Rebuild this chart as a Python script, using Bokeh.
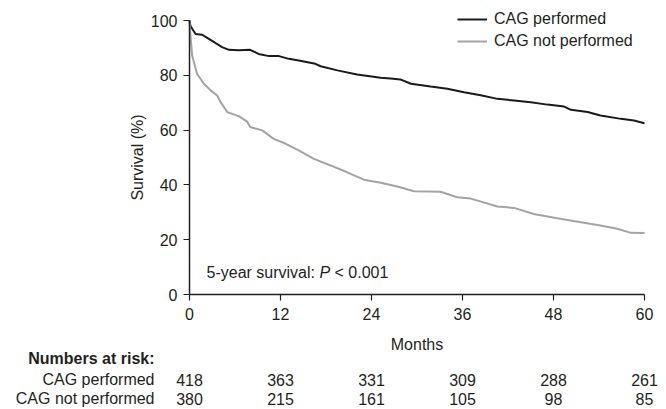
from bokeh.plotting import figure
from bokeh.models import Range1d, FixedTicker, Legend, LegendItem, Label
from bokeh.core.properties import value
from bokeh.embed import file_html
from bokeh.resources import INLINE

# ---- data ----
perf_months = [0, 0.13, 0.8, 1.67, 2.55, 3.4, 4.3, 5.2, 6.5, 8.0, 9.1, 10.5, 11.8,
               13.1, 14.4, 16.6, 17.3, 19.5, 22.1, 25.2, 26.5, 27.8, 29.2, 31.8,
               34.0, 36.2, 38.4, 40.6, 42.8, 45.0, 47.2, 49.4, 50.3, 52.5, 54.2,
               56.9, 58.6, 60]
perf_surv = [100, 98.0, 95.1, 94.8, 93.3, 91.8, 90.3, 89.3, 89.1, 89.3, 87.8, 87.0,
             87.0, 86.0, 85.4, 84.2, 83.3, 81.8, 80.3, 79.1, 78.8, 78.5, 76.9, 75.9,
             75.1, 73.8, 72.7, 71.4, 70.8, 70.2, 69.3, 68.6, 67.4, 66.6, 65.3,
             64.1, 63.5, 62.5]

notperf_months = [0, 0.13, 0.35, 1.0, 1.9, 2.8, 3.65, 4.1, 5.0, 6.5, 7.6, 8.0, 9.6,
                  11.1, 12.7, 14.4, 16.4, 18.6, 20.8, 23.0, 25.2, 27.4, 29.6, 33.1,
                  35.3, 37.1, 40.6, 42.8, 45.4, 48.5, 51.6, 54.2, 56.4, 58.2, 60]
notperf_surv = [100, 94.5, 87.2, 80.5, 76.9, 74.5, 72.6, 70.2, 66.5, 65.1, 63.1, 61.1,
                59.9, 56.8, 55.0, 52.6, 49.5, 47.1, 44.6, 41.9, 40.8, 39.4, 37.7, 37.5,
                35.5, 35.0, 32.1, 31.6, 29.4, 27.8, 26.4, 25.2, 24.0, 22.5, 22.4]

series_names = ["CAG performed", "CAG not performed"]
x_ticks = [0, 12, 24, 36, 48, 60]
y_ticks = [0, 20, 40, 60, 80, 100]
risk_perf = [418, 363, 331, 309, 288, 261]
risk_notperf = [380, 215, 161, 105, 98, 85]
annotation_parts = ["5-year survival:", "P", "< 0.001"]

FONT = "Liberation Sans"
TXT = "#231f20"
FS = "16px"

W, H = 666, 409
# frame covers the whole canvas; axes are fixed at x=0 / y=0 and bounded
px_x = 455 / 60.0   # pixels per month
px_y = 274 / 100.0  # pixels per percent
x0_px, y0_px = 189, 294
xr = Range1d(-x0_px / px_x, 60 + (W - 644) / px_x)
yr = Range1d(-(H - y0_px) / px_y, 100 + 20 / px_y)

p = figure(width=W, height=H, output_backend="svg", toolbar_location=None,
           x_range=xr, y_range=yr, min_border=0)
p.min_border_left = 0
p.min_border_right = 0
p.min_border_top = 0
p.min_border_bottom = 0
p.outline_line_color = None
p.xgrid.visible = False
p.ygrid.visible = False

r1 = p.line(perf_months, perf_surv, line_color="#1a1a1a", line_width=2)
r2 = p.line(notperf_months, notperf_surv, line_color="#a3a3a3", line_width=2)

for ax in (p.xaxis[0], p.yaxis[0]):
    ax.fixed_location = 0
    ax.axis_line_color = TXT
    ax.axis_line_width = 1.5
    ax.major_tick_line_color = TXT
    ax.major_tick_line_width = 1.2
    ax.major_tick_out = 6
    ax.major_tick_in = 0
    ax.minor_tick_line_color = None
    ax.major_label_text_font = FONT
    ax.major_label_text_font_size = FS
    ax.major_label_text_color = TXT
    ax.axis_label_text_font = FONT
    ax.axis_label_text_font_size = FS
    ax.axis_label_text_font_style = "normal"
    ax.axis_label_text_color = TXT

p.xaxis[0].bounds = (0, 60)
p.yaxis[0].bounds = (0, 100)
p.xaxis.ticker = FixedTicker(ticks=x_ticks)
p.yaxis.ticker = FixedTicker(ticks=y_ticks)
p.xaxis.axis_label = "Months"
p.xaxis.axis_label_standoff = 13
p.xaxis.major_label_standoff = 7
p.yaxis.axis_label = "Survival (%)"
p.yaxis.axis_label_standoff = 2
p.yaxis.major_label_standoff = 6

legend = Legend(items=[LegendItem(label=series_names[0], renderers=[r1]),
                       LegendItem(label=series_names[1], renderers=[r2])],
                location=(457, H - 50), orientation="vertical")
legend.padding = 0
legend.margin = 0
legend.spacing = 4
legend.glyph_width = 30
legend.glyph_height = 16
legend.label_height = 16
legend.label_standoff = 7
legend.border_line_color = None
legend.background_fill_alpha = 0
legend.label_text_font = FONT
legend.label_text_font_size = FS
legend.label_text_color = TXT
p.add_layout(legend, "center")

# annotation with italic P (x offsets in screen px from the y axis)
ann_dx = [17, 130, 145]
ann_style = ["normal", "italic", "normal"]
for txt, dx, st in zip(annotation_parts, ann_dx, ann_style):
    p.add_layout(Label(x=dx / px_x, y=8, text=txt,
                       text_font=FONT, text_font_size=FS, text_font_style=st,
                       text_color=TXT, text_baseline="middle", text_align="left"))

# numbers at risk table (below the x axis)
label_x = -35 / px_x
head_y = -64 / px_y
row_y = [-85 / px_y, -104 / px_y]
p.add_layout(Label(x=label_x, y=head_y, text="Numbers at risk:",
                   text_font=FONT, text_font_size=FS, text_font_style="bold",
                   text_color=TXT, text_baseline="middle", text_align="right"))
for name, counts, yy in zip(series_names, [risk_perf, risk_notperf], row_y):
    p.add_layout(Label(x=label_x, y=yy, text=name, text_font=FONT,
                       text_font_size=FS, text_color=TXT,
                       text_baseline="middle", text_align="right"))
    p.text(x=x_ticks, y=[yy] * len(x_ticks), text=[str(c) for c in counts],
           text_font=value(FONT), text_font_size=FS, text_color=TXT,
           text_baseline="middle", text_align="center")

open("out.html", "w").write(file_html(p, INLINE))
